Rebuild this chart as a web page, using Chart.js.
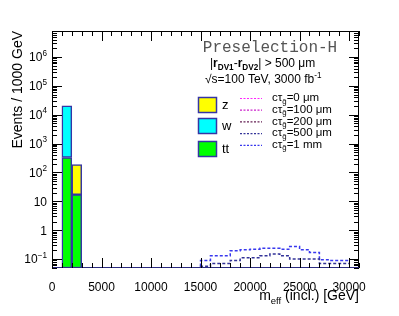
<!DOCTYPE html>
<html>
<head>
<meta charset="utf-8">
<script src="https://cdn.jsdelivr.net/npm/chart.js@4.4.1/dist/chart.umd.min.js"></script>
<style>
  body { margin: 0; background: #fff; }
  canvas { display: block; }
</style>
</head>
<body>
<canvas id="c" width="399" height="316"></canvas>
<script>
// ---------- DATA ----------
const binCenters = [1500, 2500];
const ttVals = [330, 17];
const wVals = [20000, null];
const zVals = [null, 170];

const sigBinLow = [15000, 16000, 17000, 18000, 19000, 20000, 21000, 22000,
  23000, 24000, 25000, 26000, 27000, 28000, 29000];
const sigLastEdge = 30000;
const sig0um = [];
const sig100um = [];
const sig200um = [];
const sig500um = [0.054, 0.056, 0.07, 0.07, 0.09, 0.11, 0.11, 0.13, 0.15,
  0.13, 0.1, 0.1, 0.1, 0.07, 0.07];
const sig1mm = [0.055, 0.09, 0.13, 0.13, 0.195, 0.21, 0.22, 0.235, 0.235,
  0.22, 0.27, 0.21, 0.17, 0.095, 0.09];

const xTickVals = [0, 5000, 10000, 15000, 20000, 25000, 30000];
const yDecades = [-1, 0, 1, 2, 3, 4, 5, 6];

const sigLabels = ["0 \u03bcm", "100 \u03bcm", "200 \u03bcm", "500 \u03bcm", "1 mm"];
const sigColors = ["#ff22ff", "#cc22cc", "#662255", "#333399", "#3838ee"];

// ---------- HELPERS ----------
const OUTLINE = "#3535a5";
const FONT = "'Liberation Sans', Arial, sans-serif";

function stepPoints(vals) {
  if (!vals.length) return [];
  const pts = sigBinLow.map((x, i) => ({ x, y: vals[i] }));
  pts.push({ x: sigLastEdge, y: vals[vals.length - 1] });
  return pts;
}

function barSet(label, vals, color) {
  return {
    type: "bar",
    label,
    data: binCenters.map((x, i) => ({ x, y: vals[i] })),
    backgroundColor: color,
    borderColor: OUTLINE,
    borderWidth: 1.5,
    borderSkipped: false,
    barPercentage: 1,
    categoryPercentage: 1,
    stack: "bkg",
  };
}

function sigSet(i, vals) {
  return {
    type: "line",
    label: sigLabels[i],
    data: stepPoints(vals),
    stepped: "after",
    borderColor: sigColors[i],
    borderWidth: 1.5,
    borderDash: [3, 2],
    pointRadius: 0,
    fill: false,
    stack: "sig" + i,
  };
}

// text with sub/superscript pieces: [text, mode, bold]
function richText(ctx, x, y, parts, size) {
  let cx = x;
  parts.forEach(([t, mode, bold]) => {
    let fs = size, dy = 0;
    if (mode === "sub") { fs = size * 0.68; dy = size * 0.3; }
    if (mode === "sup") { fs = size * 0.68; dy = -size * 0.38; }
    ctx.font = (bold ? "bold " : "") + fs + "px " + FONT;
    ctx.fillText(t, cx, y + dy);
    cx += ctx.measureText(t).width;
  });
  return cx;
}

function richWidth(ctx, parts, size) {
  let w = 0;
  parts.forEach(([t, mode, bold]) => {
    ctx.font = (bold ? "bold " : "") + (mode ? size * 0.68 : size) + "px " + FONT;
    w += ctx.measureText(t).width;
  });
  return w;
}

const decor = {
  id: "decor",
  afterDraw(chart) {
    const ctx = chart.ctx;
    const a = chart.chartArea;
    const xs = chart.scales.x, ys = chart.scales.y;
    ctx.save();

    // frame
    ctx.strokeStyle = "#000";
    ctx.lineWidth = 1;
    ctx.strokeRect(a.left + 0.5, a.top + 0.5, a.right - a.left - 1, a.bottom - a.top - 1);
    ctx.strokeStyle = "#2a2a80";
    ctx.beginPath();
    ctx.moveTo(a.left, a.bottom - 0.5);
    ctx.lineTo(a.right, a.bottom - 0.5);
    ctx.stroke();

    // y ticks, log, both sides
    ctx.strokeStyle = "#000";
    ctx.beginPath();
    for (let d = -2; d <= 7; d++) {
      for (let m = 1; m <= 9; m++) {
        const v = m * Math.pow(10, d);
        if (v < ys.min || v > ys.max) continue;
        const py = Math.round(ys.getPixelForValue(v)) + 0.5;
        const len = m === 1 ? 10 : 5;
        ctx.moveTo(a.left, py); ctx.lineTo(a.left + len, py);
        ctx.moveTo(a.right, py); ctx.lineTo(a.right - len, py);
      }
    }
    // x ticks, bottom and top
    for (let v = 0; v <= xs.max; v += 1000) {
      const px = Math.round(xs.getPixelForValue(v)) + 0.5;
      const len = v % 5000 === 0 ? 10 : 5;
      ctx.moveTo(px, a.bottom); ctx.lineTo(px, a.bottom - len);
      ctx.moveTo(px, a.top); ctx.lineTo(px, a.top + len);
    }
    ctx.stroke();

    // y tick labels
    ctx.fillStyle = "#000";
    ctx.textBaseline = "middle";
    ctx.textAlign = "left";
    yDecades.forEach(d => {
      const py = ys.getPixelForValue(Math.pow(10, d));
      let parts;
      if (d === 0) parts = [["1"]];
      else if (d === 1) parts = [["10"]];
      else parts = [["10"], [String(d).replace("-", "\u2212"), "sup"]];
      const w = richWidth(ctx, parts, 12);
      richText(ctx, a.left - 5 - w, py + 1, parts, 12);
    });

    // axis titles
    ctx.font = "14px " + FONT;
    ctx.save();
    ctx.translate(18, a.top);
    ctx.rotate(-Math.PI / 2);
    ctx.textAlign = "right";
    ctx.textBaseline = "middle";
    ctx.fillText("Events / 1000 GeV", 0, 0);
    ctx.restore();

    ctx.textAlign = "left";
    ctx.textBaseline = "alphabetic";
    const xt = [["m"], ["eff", "sub"], [" (incl.) [GeV]"]];
    richText(ctx, a.right - richWidth(ctx, xt, 14), 300, xt, 14);

    // header texts
    ctx.fillStyle = "#555";
    ctx.font = "16px 'Liberation Mono', 'Courier New', monospace";
    ctx.textAlign = "center";
    ctx.textBaseline = "middle";
    ctx.fillText("Preselection-H", 270, 48);
    ctx.fillStyle = "#000";
    ctx.textAlign = "left";
    richText(ctx, 210, 64, [["|"], ["r", null, true], ["DV1", "sub", true], ["-"],
      ["r", null, true], ["DV2", "sub", true], ["| > 500 \u03bcm"]], 12);
    richText(ctx, 205, 80, [["\u221as=100 TeV, 3000 fb"], ["-1", "sup"]], 12);

    // legend: backgrounds
    const boxes = [["z", "#ffff00", 97], ["w", "#00ffff", 118], ["tt", "#00ff00", 141]];
    boxes.forEach(([lab, col, y0]) => {
      ctx.fillStyle = col;
      ctx.fillRect(198, y0, 19, 16);
      ctx.strokeStyle = OUTLINE;
      ctx.lineWidth = 1.5;
      ctx.strokeRect(198.5, y0 + 0.5, 18, 15);
      ctx.fillStyle = "#000";
      ctx.font = "13px " + FONT;
      ctx.fillText(lab, 222, y0 + 8);
    });

    // legend: signals
    sigLabels.forEach((lab, i) => {
      const y = 98 + i * 11.7;
      ctx.strokeStyle = sigColors[i];
      ctx.lineWidth = 1.2;
      ctx.setLineDash([2, 1.5]);
      ctx.beginPath();
      ctx.moveTo(240, y + 0.5);
      ctx.lineTo(262, y + 0.5);
      ctx.stroke();
      ctx.setLineDash([]);
      ctx.fillStyle = "#000";
      richText(ctx, 272, y, [["c\u03c4"], ["g\u0303", "sub"], ["=" + lab]], 11.5);
    });

    ctx.restore();
  },
};

new Chart(document.getElementById("c"), {
  data: {
    datasets: [
      barSet("tt", ttVals, "#00ff00"),
      barSet("w", wVals, "#00ffff"),
      barSet("z", zVals, "#ffff00"),
      sigSet(0, sig0um),
      sigSet(1, sig100um),
      sigSet(2, sig200um),
      sigSet(3, sig500um),
      sigSet(4, sig1mm),
    ],
  },
  options: {
    responsive: false,
    animation: false,
    layout: { padding: { top: 31, right: 40, left: 0, bottom: 0 } },
    plugins: { legend: { display: false }, tooltip: { enabled: false } },
    scales: {
      x: {
        type: "linear",
        offset: false,
        min: 0,
        max: 31000,
        afterBuildTicks: (s) => { s.ticks = xTickVals.map(v => ({ value: v })); },
        afterFit: (s) => { s.height = 48; },
        grid: { display: false, offset: false },
        border: { display: false },
        ticks: {
          color: "#000",
          padding: 4,
          maxRotation: 0,
          autoSkip: false,
          font: { family: FONT, size: 12 },
          callback: (v) => String(v),
        },
      },
      y: {
        type: "logarithmic",
        stacked: true,
        min: 0.049,
        max: 8e6,
        afterFit: (s) => { s.width = 52; },
        grid: { display: false },
        border: { display: false },
        ticks: { display: false },
      },
    },
  },
  plugins: [decor],
});
</script>
</body>
</html>
